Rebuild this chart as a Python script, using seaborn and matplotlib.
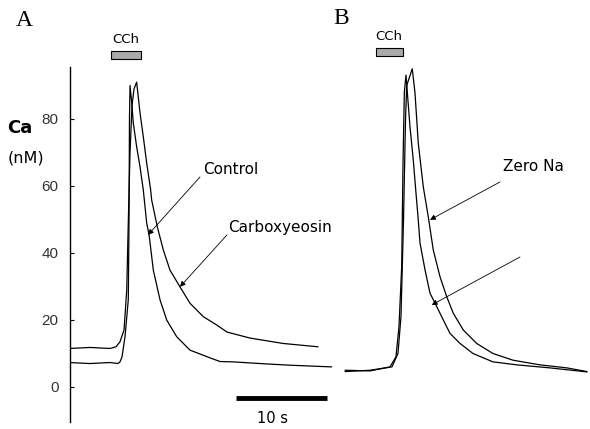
import numpy as np
import pandas as pd
import matplotlib
matplotlib.use("Agg")
import matplotlib.pyplot as plt
import seaborn as sns

# --- Panel A traces (time in s, Ca in nM) ---
control_t = [0.0, 2.25, 4.45, 5.33, 5.55, 5.77, 6.10, 6.46, 6.54, 6.59, 6.65, 6.84, 7.01,
             7.38, 7.75, 8.11, 8.48, 8.77, 9.21, 9.95, 10.68, 11.78, 13.24, 15.44, 16.54,
             17.97, 20.93, 24.23, 28.81]
control_ca = [7.3, 7.0, 7.3, 7.0, 7.5, 9.0, 15.0, 26.0, 50.0, 80.0, 90.0, 84.8, 78.8,
              71.7, 65.7, 58.8, 49.0, 44.9, 34.9, 26.0, 20.0, 15.0, 11.0, 8.7, 7.6,
              7.5, 7.0, 6.5, 6.0]

carboxy_t = [0.0, 2.25, 4.45, 5.11, 5.55, 5.99, 6.29, 6.46, 6.65, 6.87, 7.09, 7.38, 7.75,
             8.11, 8.48, 8.92, 9.03, 9.65, 10.31, 11.04, 12.14, 13.24, 14.70, 16.18,
             17.31, 19.84, 23.46, 27.31]
carboxy_ca = [11.5, 11.8, 11.5, 12.0, 13.5, 17.0, 29.0, 49.0, 70.0, 84.0, 89.0, 91.0, 81.8,
              74.7, 66.9, 58.8, 55.8, 47.8, 40.9, 34.9, 29.9, 25.0, 21.0, 18.5,
              16.4, 14.6, 13.0, 12.0]

# --- Panel B traces ---
ctrl_b_t = [1.10, 3.85, 6.04, 6.70, 7.03, 7.33, 7.47, 7.62, 7.80, 8.24, 8.60, 8.90, 9.15,
            9.34, 9.89, 10.44, 11.18, 11.90, 12.64, 13.74, 15.16, 17.36, 20.00, 23.63, 27.69]
ctrl_b_ca = [5.0, 4.8, 6.0, 9.0, 18.0, 36.0, 66.0, 88.0, 93.1, 77.7, 67.8, 57.9, 49.9,
             43.0, 35.0, 28.0, 24.0, 20.0, 16.0, 13.0, 10.0, 7.5, 6.6, 5.7, 4.5]

zero_na_t = [1.10, 3.85, 6.26, 6.92, 7.25, 7.53, 7.75, 7.88, 8.49, 8.79, 9.15, 9.70, 10.25,
             10.80, 11.54, 12.27, 13.00, 14.10, 15.57, 17.36, 19.56, 22.53, 25.49, 27.69]
zero_na_ca = [4.6, 5.0, 6.0, 10.0, 21.0, 50.0, 80.0, 90.0, 95.0, 87.8, 72.8, 59.8, 50.8,
              40.9, 32.9, 27.0, 22.0, 17.0, 13.0, 10.0, 8.0, 6.6, 5.7, 4.6]

y_ticks = [0, 20, 40, 60, 80]

sns.set_style("white")
plt.rcParams["font.family"] = ["DejaVu Sans"]
plt.rcParams["text.color"] = "black"

W, H = 590, 429
fig = plt.figure(figsize=(W / 100, H / 100), dpi=100)

px_per_s = 9.1
ylim = (-10.45, 95.52)
axA = fig.add_axes([69.5 / W, 7 / H, (335 - 69.5) / W, 355 / H])
axB = fig.add_axes([335 / W, 7 / H, 255 / W, 355 / H])
axA.set_xlim(0, (335 - 69.5) / px_per_s)
axB.set_xlim(0, 255 / px_per_s)
for ax in (axA, axB):
    ax.set_ylim(*ylim)
    ax.patch.set_alpha(0)

def trace(ax, t, ca):
    df = pd.DataFrame({"t": t, "ca": ca})
    sns.lineplot(data=df, x="t", y="ca", ax=ax, color="black", lw=0.9,
                 estimator=None, sort=False)

trace(axA, control_t, control_ca)
trace(axA, carboxy_t, carboxy_ca)
trace(axB, ctrl_b_t, ctrl_b_ca)
trace(axB, zero_na_t, zero_na_ca)

# axes styling
sns.despine(ax=axA, top=True, right=True, bottom=True)
sns.despine(ax=axB, top=True, right=True, bottom=True, left=True)
axA.spines["left"].set_color("black")
axA.spines["left"].set_linewidth(1.0)
axA.set_xticks([])
axA.set_yticks(y_ticks)
axA.set_yticklabels([str(v) for v in y_ticks], family="Liberation Sans",
                    fontsize=11, color="#333333")
axA.tick_params(axis="y", direction="in", length=3, width=0.8, pad=8, left=True,
                color="black")
axB.set_xticks([])
axB.set_yticks([])
for ax in (axA, axB):
    ax.set_xlabel("")
    ax.set_ylabel("")

# annotations
arrow = dict(arrowstyle="-|>", color="black", lw=0.6, mutation_scale=8,
             shrinkA=0, shrinkB=0)
axA.annotate("", xy=(8.63, 45.4), xytext=(14.34, 62.7), arrowprops=arrow)
axA.text(14.67, 64.8, "Control", fontsize=11, ha="left", va="center")
axA.annotate("", xy=(12.14, 29.9), xytext=(17.31, 45.4), arrowprops=arrow)
axA.text(17.42, 47.5, "Carboxyeosin", fontsize=11, ha="left", va="center",
         clip_on=False)
axB.annotate("", xy=(10.44, 49.9), xytext=(18.13, 61.2), arrowprops=arrow)
axB.text(18.46, 65.7, "Zero Na", fontsize=11, ha="left", va="center")
axB.annotate("", xy=(10.63, 24.5), xytext=(20.33, 38.8), arrowprops=arrow)

# CCh bars
for ax, x0, x1, lo, hi, tx, ty in [(axA, 4.56, 7.86, 97.9, 100.3, 6.21, 103.6),
                                    (axB, 4.51, 7.47, 98.8, 101.2, 5.88, 104.5)]:
    ax.fill_between([x0, x1], lo, hi, facecolor="#aaaaaa", edgecolor="black",
                    lw=0.8, clip_on=False)
    ax.text(tx, ty, "CCh", fontsize=9.5, ha="center", va="center", clip_on=False)

# scale bar
axA.plot([18.30, 28.30], [-3.3, -3.3], color="black", lw=3.5,
         solid_capstyle="butt", clip_on=False)
axA.text(22.36, -9.3, "10 s", fontsize=10.5, ha="center", va="center",
         clip_on=False)

# panel letters and y label
fig.text(24 / W, 1 - 21 / H, "A", family="Liberation Serif", fontsize=17,
         ha="center", va="center")
fig.text(341 / W, 1 - 19 / H, "B", family="Liberation Serif", fontsize=17,
         ha="center", va="center")
fig.text(20 / W, 1 - 128 / H, "Ca", fontsize=13, fontweight="bold",
         ha="center", va="center")
fig.text(26 / W, 1 - 158 / H, "(nM)", fontsize=11.5, ha="center", va="center")

fig.savefig("out.png", dpi=100, facecolor="white")
